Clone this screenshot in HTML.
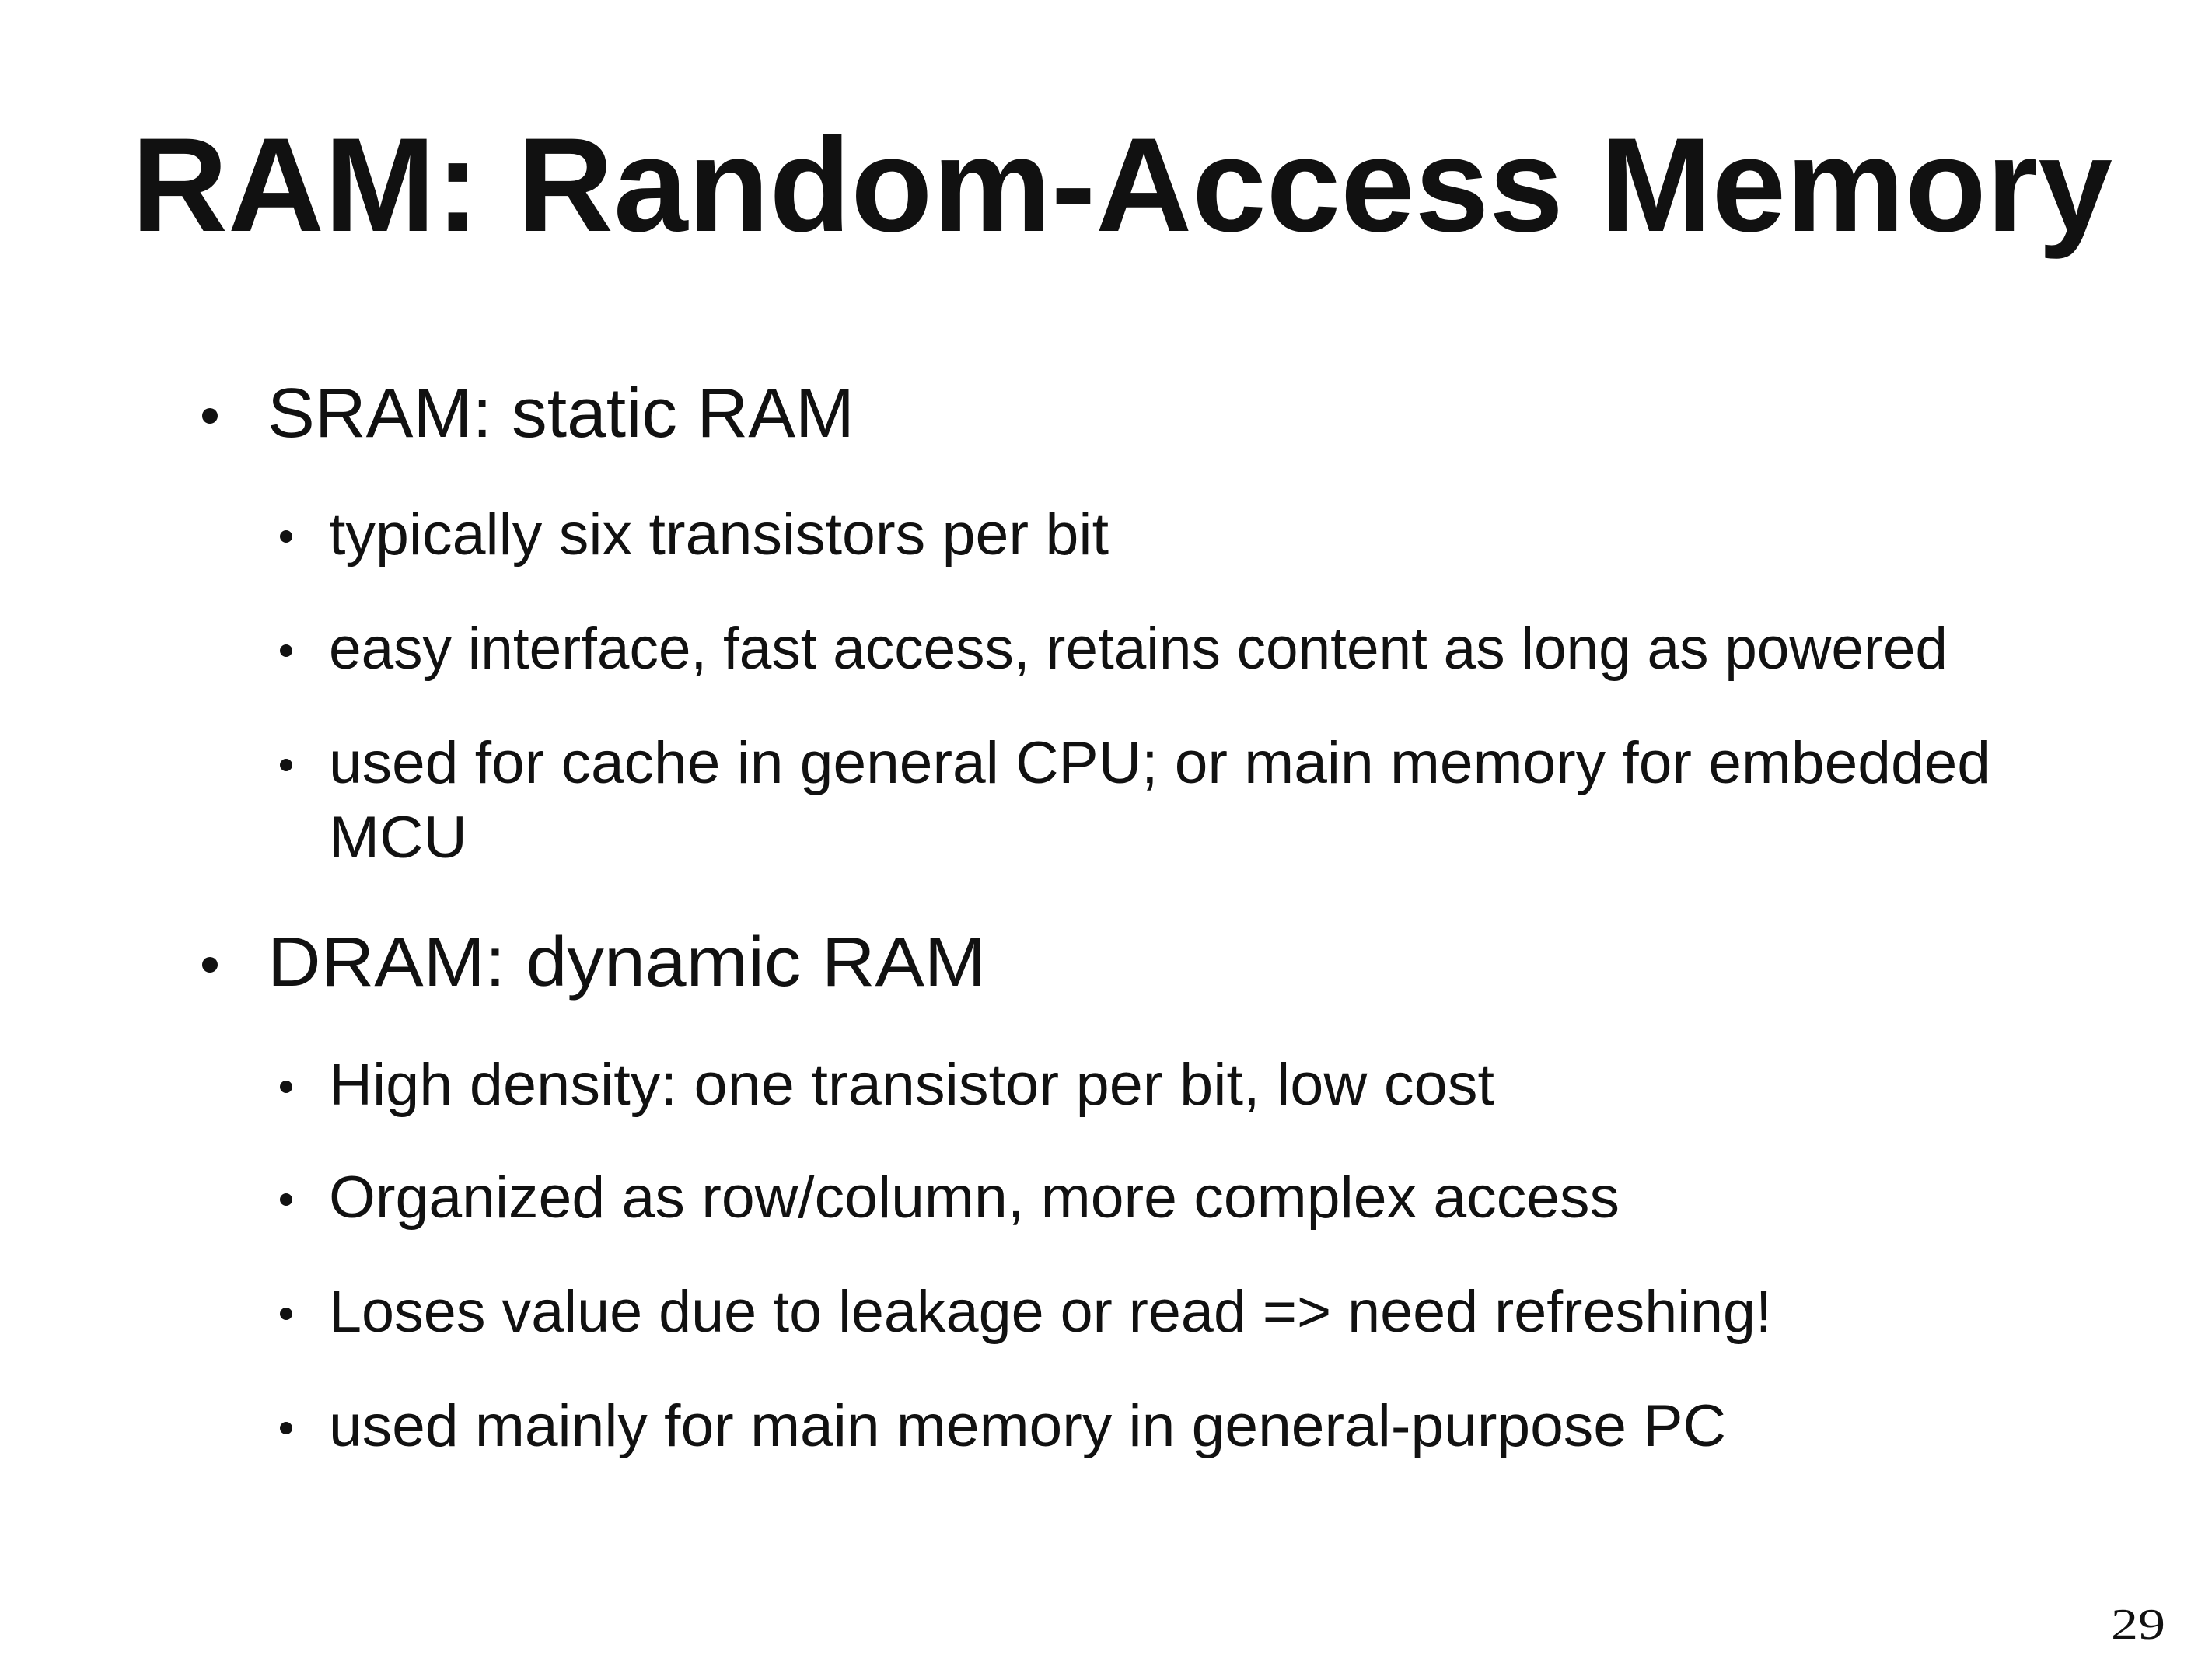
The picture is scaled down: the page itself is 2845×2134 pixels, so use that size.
<!DOCTYPE html>
<html><head><meta charset="utf-8"><style>
html,body{margin:0;padding:0;background:#fff;}
svg{display:block;}
text{font-family:"Liberation Sans",sans-serif;fill:#111;}
</style></head><body>
<svg width="2845" height="2134" viewBox="0 0 2845 2134" xmlns="http://www.w3.org/2000/svg">
<rect width="2845" height="2134" fill="#fff"/>
<text x="169" y="297" font-size="172" font-weight="bold" textLength="2548" lengthAdjust="spacingAndGlyphs">RAM: Random-Access Memory</text>

<circle cx="270" cy="535" r="10" fill="#111"/>
<text x="344" y="562" font-size="90" textLength="755" lengthAdjust="spacingAndGlyphs">SRAM: static RAM</text>

<circle cx="368" cy="690" r="8" fill="#111"/>
<text x="423" y="713" font-size="76" textLength="1003" lengthAdjust="spacingAndGlyphs">typically six transistors per bit</text>
<circle cx="368" cy="837" r="8" fill="#111"/>
<text x="423" y="860" font-size="76" textLength="2082" lengthAdjust="spacingAndGlyphs">easy interface, fast access, retains content as long as powered</text>
<circle cx="368" cy="984" r="8" fill="#111"/>
<text x="423" y="1007" font-size="76" textLength="2137" lengthAdjust="spacingAndGlyphs">used for cache in general CPU; or main memory for embedded</text>
<text x="423" y="1103" font-size="76" textLength="178" lengthAdjust="spacingAndGlyphs">MCU</text>

<circle cx="270" cy="1241" r="10" fill="#111"/>
<text x="344" y="1268" font-size="90" textLength="924" lengthAdjust="spacingAndGlyphs">DRAM: dynamic RAM</text>

<circle cx="368" cy="1398" r="8" fill="#111"/>
<text x="423" y="1421" font-size="76" textLength="1499" lengthAdjust="spacingAndGlyphs">High density: one transistor per bit, low cost</text>
<circle cx="368" cy="1543" r="8" fill="#111"/>
<text x="423" y="1566" font-size="76" textLength="1660" lengthAdjust="spacingAndGlyphs">Organized as row/column, more complex access</text>
<circle cx="368" cy="1690" r="8" fill="#111"/>
<text x="423" y="1713" font-size="76" textLength="1856" lengthAdjust="spacingAndGlyphs">Loses value due to leakage or read =&gt; need refreshing!</text>
<circle cx="368" cy="1837" r="8" fill="#111"/>
<text x="423" y="1860" font-size="76" textLength="1797" lengthAdjust="spacingAndGlyphs">used mainly for main memory in general-purpose PC</text>

<text x="2715" y="2108" font-size="56" style="font-family:'Liberation Serif',serif" fill="#333" textLength="70" lengthAdjust="spacingAndGlyphs">29</text>
</svg>
</body></html>
